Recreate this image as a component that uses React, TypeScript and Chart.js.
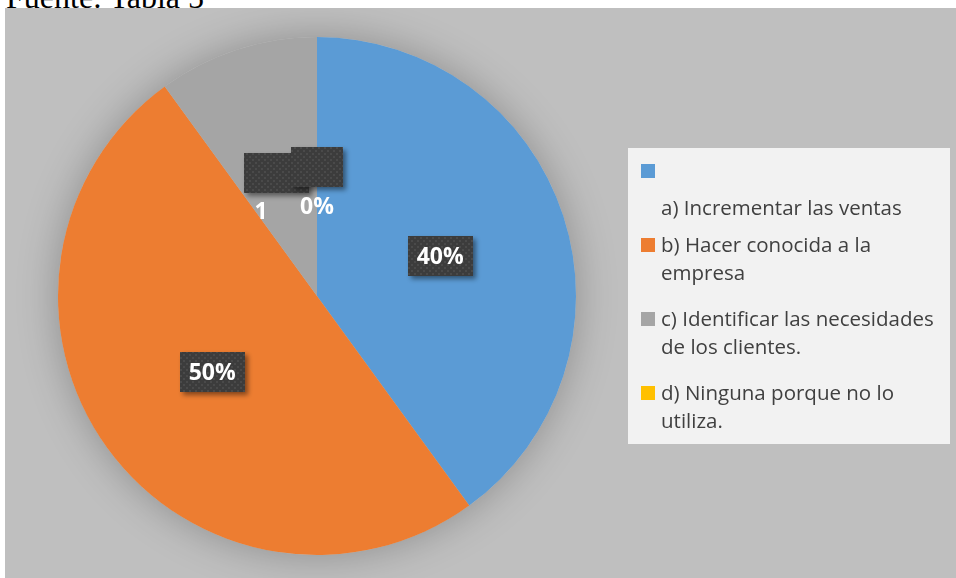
import React, { useEffect, useRef } from "react";
import { Chart, registerables } from "chart.js";

Chart.register(...registerables);

const titleText = "Fuente: Tabla 5";
const categories = [
  "a) Incrementar las ventas",
  "b) Hacer conocida a la empresa",
  "c) Identificar las necesidades de los clientes.",
  "d) Ninguna porque no lo utiliza.",
];
const values = [40, 50, 10, 0];
const valueLabels = ["40%", "50%", "1", "0%"];
const boxLabels = ["40%", "50%", "10%", "0%"];
const legendLines = [
  ["", "a) Incrementar las ventas"],
  ["b) Hacer conocida a la", "empresa"],
  ["c) Identificar las necesidades", "de los clientes."],
  ["d) Ninguna porque no lo", "utiliza."],
];
const sliceColors = ["#5B9BD5", "#ED7D31", "#A5A5A5", "#FFC000"];

const BG = "#BFBFBF";

function makePattern(ctx: CanvasRenderingContext2D) {
  const c = document.createElement("canvas");
  c.width = 6;
  c.height = 6;
  const p = c.getContext("2d")!;
  p.fillStyle = "#3C3C3C";
  p.fillRect(0, 0, 6, 6);
  p.fillStyle = "#4A4A4A";
  p.fillRect(1, 1, 2, 2);
  p.fillRect(4, 4, 2, 2);
  return ctx.createPattern(c, "repeat");
}

const decorPlugin = {
  id: "decor",
  beforeDraw(chart: any) {
    const { ctx, width, height } = chart;
    ctx.save();
    ctx.fillStyle = BG;
    ctx.fillRect(0, 0, width, height);
    ctx.restore();
  },
  beforeDatasetsDraw(chart: any) {
    const meta = chart.getDatasetMeta(0);
    const arc = meta.data[0];
    if (!arc) return;
    const { ctx } = chart;
    const r = arc.outerRadius;
    ctx.save();
    ctx.shadowColor = "rgba(0,0,0,0.26)";
    ctx.shadowBlur = 40;
    ctx.fillStyle = BG;
    ctx.beginPath();
    ctx.arc(arc.x, arc.y, r, 0, Math.PI * 2);
    ctx.fill();
    ctx.restore();
  },
  afterDatasetsDraw(chart: any) {
    const { ctx } = chart;
    const meta = chart.getDatasetMeta(0);
    const textOffsets = [
      [0, 0],
      [0, 0],
      [-16, 39],
      [0, 40],
    ];
    const pattern = makePattern(ctx);
    ctx.save();
    ctx.font = "bold 23px 'Open Sans'";
    meta.data.forEach((arc: any, i: number) => {
      const pos = arc.getCenterPoint();
      const bw = ctx.measureText(boxLabels[i]).width + 18;
      const bh = 40;
      ctx.save();
      ctx.shadowColor = "rgba(0,0,0,0.45)";
      ctx.shadowBlur = 5;
      ctx.shadowOffsetX = 3;
      ctx.shadowOffsetY = 3;
      ctx.fillStyle = pattern || "#3C3C3C";
      ctx.fillRect(Math.round(pos.x - bw / 2), Math.round(pos.y - bh / 2), Math.round(bw), bh);
      ctx.restore();
    });
    meta.data.forEach((arc: any, i: number) => {
      const pos = arc.getCenterPoint();
      ctx.fillStyle = "#FFFFFF";
      ctx.textAlign = "center";
      ctx.textBaseline = "middle";
      ctx.fillText(valueLabels[i], pos.x + textOffsets[i][0], pos.y + textOffsets[i][1] + 1);
    });
    ctx.restore();
  },
  afterDraw(chart: any) {
    const { ctx } = chart;
    const ds = chart.data.datasets[0];
    ctx.save();
    ctx.fillStyle = "#F2F2F2";
    ctx.fillRect(623, 140, 322, 296);
    ctx.font = "20.5px 'Open Sans'";
    ctx.textAlign = "left";
    ctx.textBaseline = "middle";
    const lineGaps = [37, 28.5, 28.5, 28.5];
    legendLines.forEach((lines, i) => {
      const y0 = 163 + i * 74;
      ctx.fillStyle = ds.backgroundColor[i];
      ctx.fillRect(636, y0 - 7, 14, 14);
      ctx.fillStyle = "#404040";
      lines.forEach((ln, j) => {
        if (ln) ctx.fillText(ln, 656, y0 + j * lineGaps[i] + 1);
      });
    });
    ctx.restore();
  },
};

export default function App() {
  const ref = useRef<HTMLCanvasElement | null>(null);
  useEffect(() => {
    if (!ref.current) return;
    const chart = new Chart(ref.current, {
      type: "pie",
      data: {
        labels: categories,
        datasets: [
          {
            data: values,
            backgroundColor: sliceColors,
            borderWidth: 0,
          },
        ],
      },
      options: {
        animation: false,
        responsive: false,
        maintainAspectRatio: false,
        layout: { padding: { top: 29, bottom: 23, left: 53, right: 380 } },
        plugins: {
          legend: { display: false },
          tooltip: { enabled: false },
        },
      },
      plugins: [decorPlugin],
    });
    return () => chart.destroy();
  }, []);
  return (
    <div style={{ position: "absolute", left: 0, top: 0, width: 956, height: 578, overflow: "hidden", background: "#fff" }}>
      <div
        style={{
          position: "absolute",
          left: 6,
          top: -19,
          fontFamily: "'Liberation Serif', 'Times New Roman', serif",
          fontSize: 32,
          lineHeight: "32px",
          color: "#000",
          whiteSpace: "nowrap",
          zIndex: 0,
        }}
      >
        {titleText}
      </div>
      <canvas
        ref={ref}
        width={951}
        height={570}
        style={{ position: "absolute", left: 5, top: 8, width: 951, height: 570, zIndex: 1 }}
      />
    </div>
  );
}
